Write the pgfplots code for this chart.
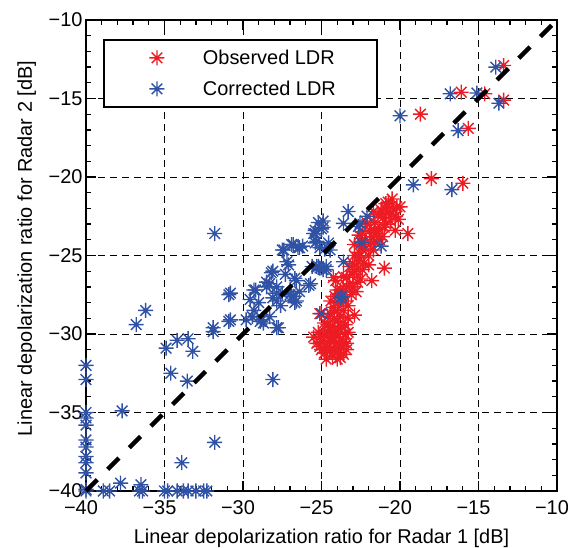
\documentclass[border=0pt]{standalone}
\usepackage{pgfplots}
\pgfplotsset{compat=1.18}
\usepackage{fontspec}
\setmainfont{Liberation Sans}
\definecolor{obsred}{RGB}{237,28,36}
\definecolor{corblue}{RGB}{48,82,165}
\pgfdeclareplotmark{mstar}{%
  \pgfpathmoveto{\pgfqpoint{0pt}{\pgfplotmarksize}}\pgfpathlineto{\pgfqpoint{0pt}{-\pgfplotmarksize}}%
  \pgfpathmoveto{\pgfqpoint{\pgfplotmarksize}{0pt}}\pgfpathlineto{\pgfqpoint{-\pgfplotmarksize}{0pt}}%
  \pgfpathmoveto{\pgfqpoint{0.707\pgfplotmarksize}{0.707\pgfplotmarksize}}\pgfpathlineto{\pgfqpoint{-0.707\pgfplotmarksize}{-0.707\pgfplotmarksize}}%
  \pgfpathmoveto{\pgfqpoint{0.707\pgfplotmarksize}{-0.707\pgfplotmarksize}}\pgfpathlineto{\pgfqpoint{-0.707\pgfplotmarksize}{0.707\pgfplotmarksize}}%
  \pgfusepathqstroke}
\begin{document}
\begin{tikzpicture}
\begin{axis}[
  set layers,
  scale only axis, width=471bp, height=471bp,
  xmin=-40, xmax=-10, ymin=-40, ymax=-10,
  xtick={-40,-35,-30,-25,-20,-15,-10},
  ytick={-40,-35,-30,-25,-20,-15,-10},
  xticklabels={−40,−35,−30,−25,−20,−15,−10},
  yticklabels={−40,−35,−30,−25,−20,−15,−10},
  minor x tick num=4, minor y tick num=4,
  tick align=inside,
  major tick length=10bp, minor tick length=5bp,
  every tick/.style={black, line width=1.3bp},
  axis line style={line width=2.8bp},
  grid=major,
  major grid style={black, line width=0.9bp, dash pattern=on 7bp off 5bp},
  font=\fontsize{20}{24}\selectfont,
  xticklabel style={yshift=-6bp, xshift=-5bp},
  xlabel={Linear depolarization ratio for Radar 1 [dB]},
  ylabel={Linear depolarization ratio for Radar 2 [dB]},
  xlabel style={at={(axis description cs:0.5,-0.1125)}, anchor=base},
  ylabel style={at={(axis description cs:-0.115,0.515)}, anchor=base},
  legend style={at={(0.036,0.96)}, anchor=north west, draw=black, line width=2bp,
    inner xsep=10bp, inner ysep=9bp, row sep=13bp, column sep=38bp,
    nodes={inner sep=0pt, text height=16bp, text depth=2bp},
    font=\fontsize{20}{24}\selectfont},
  legend image code/.code={\path[draw=none,fill=none] (-43bp,-8bp) rectangle (8bp,8bp); \draw[#1] plot coordinates {(0bp,0bp)};},
]
\addplot[only marks, mark=mstar, mark size=7.5bp, line width=1.4bp, color=obsred] coordinates {
(-18.7,-16.0) (-16.1,-14.6) (-14.6,-14.7) (-13.4,-12.9) (-13.4,-15.1) (-15.65,-16.9) (-18.0,-20.1) (-16.0,-20.4)
(-25.1,-30.2) (-24.9,-30.5) (-24.8,-31.2) (-24.6,-29.8) (-24.5,-30.4) (-24.4,-30.9) (-24.3,-31.4) (-24.2,-30.0)
(-24.1,-30.6) (-24.0,-31.2) (-23.9,-29.7) (-23.8,-30.3) (-23.7,-30.8) (-23.6,-31.3) (-23.5,-30.0) (-23.4,-30.6)
(-24.6,-30.9) (-25.3,-30.6) (-25.5,-30.2) (-25.1,-30.8) (-23.9,-31.0) (-24.3,-29.5) (-23.5,-29.4) (-24.0,-29.2)
(-23.3,-29.9) (-24.7,-31.6) (-24.0,-31.6) (-23.6,-30.5) (-24.8,-30.0) (-24.4,-30.2) (-24.1,-29.9) (-23.8,-31.5)
(-24.5,-31.1) (-25.0,-31.0) (-23.4,-31.0) (-24.2,-30.4) (-23.7,-29.6) (-24.6,-29.4) (-25.2,-29.9)
(-24.45,-28.7) (-23.8,-28.9) (-22.9,-28.8) (-24.25,-28.3) (-24.0,-27.2) (-23.8,-27.2) (-24.15,-27.6) (-23.9,-28.0)
(-23.5,-27.9) (-23.6,-27.3) (-23.2,-26.8) (-23.4,-27.0) (-23.6,-26.35) (-24.25,-26.4) (-24.1,-26.6) (-23.2,-25.7)
(-22.75,-25.9) (-22.65,-25.4) (-23.0,-26.2) (-22.9,-25.0) (-22.6,-24.8) (-22.2,-24.0) (-22.4,-24.4) (-21.8,-26.6)
(-21.0,-25.8) (-21.7,-24.65) (-22.8,-27.3) (-22.5,-26.5) (-22.3,-25.5) (-22.0,-25.0) (-21.9,-23.4) (-21.5,-23.6)
(-22.1,-23.0) (-21.8,-23.8) (-21.3,-24.0) (-22.4,-23.5) (-21.6,-22.9) (-21.0,-23.2) (-20.85,-22.3) (-20.3,-22.5)
(-20.75,-21.6) (-20.2,-21.9) (-20.0,-21.9) (-20.3,-23.4) (-19.5,-23.6) (-21.1,-22.6) (-20.6,-22.8) (-20.9,-22.0)
(-20.4,-22.1) (-21.4,-22.4) (-25.1,-28.7) (-22.9,-24.3) (-22.6,-23.7)
(-24.6,-28.9) (-24.2,-29.0) (-23.6,-28.5) (-24.0,-28.5) (-23.3,-28.2) (-23.1,-27.5) (-23.7,-27.7) (-24.4,-27.9)
(-23.0,-27.0) (-22.7,-26.7) (-23.4,-26.4) (-22.9,-26.0) (-22.4,-25.9) (-22.0,-25.6) (-22.6,-25.1) (-23.0,-25.5)
(-22.2,-24.6) (-21.9,-24.3) (-21.6,-24.1) (-22.5,-24.1) (-21.4,-23.3) (-21.1,-23.8) (-21.6,-23.4) (-20.9,-23.0)
(-20.6,-22.4) (-20.9,-21.7) (-20.5,-21.4) (-21.2,-22.1) (-20.1,-22.7) (-22.2,-22.8) (-21.7,-22.2) (-24.5,-29.6)
(-23.3,-29.0) (-24.8,-29.3)
};
\addlegendentry{\makebox[164bp][l]{Observed LDR}}
\addplot[only marks, mark=mstar, mark size=7.5bp, line width=1.4bp, color=corblue] coordinates {
(-20.0,-16.1) (-16.8,-14.7) (-15.1,-14.65) (-13.9,-13.0) (-13.7,-15.3) (-16.3,-17.05) (-19.15,-20.5) (-16.7,-20.8)
(-31.8,-23.6) (-30.9,-27.5) (-36.2,-28.5) (-36.8,-29.4) (-30.9,-29.2) (-31.9,-29.6) (-27.5,-24.65) (-26.8,-24.3)
(-26.4,-24.5) (-25.5,-23.6) (-24.9,-23.2) (-27.2,-25.4) (-28.2,-26.1) (-25.7,-26.8) (-26.8,-27.6) (-27.85,-27.4)
(-28.5,-27.0) (-29.3,-27.2) (-29.55,-27.8) (-29.3,-28.5) (-28.3,-28.9) (-29.8,-29.1) (-28.7,-29.3) (-25.2,-25.7)
(-24.7,-25.9) (-23.3,-22.2) (-23.6,-22.95) (-22.55,-22.95) (-22.1,-22.5) (-25.0,-23.3) (-25.4,-23.6) (-25.3,-24.1)
(-24.55,-24.2) (-24.45,-24.65) (-25.1,-24.5) (-26.9,-24.3) (-27.4,-24.65) (-23.6,-25.4) (-22.45,-24.2) (-21.2,-24.4)
(-25.1,-25.8) (-24.7,-25.7) (-25.6,-25.7) (-27.1,-25.6) (-28.1,-26.0) (-26.7,-26.45) (-25.8,-26.9) (-28.3,-26.8)
(-27.5,-27.4) (-26.9,-27.6) (-26.6,-27.9) (-27.85,-27.9) (-23.7,-27.6) (-29.4,-28.9) (-28.9,-29.2) (-27.85,-29.6)
(-25.0,-28.7) (-28.1,-32.9) (-26.7,-28.0) (-22.65,-23.15) (-23.8,-27.7) (-24.9,-25.9)
(-25.4,-23.4) (-25.4,-24.2) (-24.8,-24.6) (-26.5,-24.5) (-28.5,-26.7) (-26.6,-26.6) (-27.85,-27.0) (-29.2,-27.2)
(-27.0,-27.5) (-28.1,-27.7) (-28.8,-29.1) (-27.75,-29.6) (-30.8,-27.4) (-30.8,-29.1) (-25.3,-25.7)
(-26.2,-24.4) (-24.9,-22.8) (-25.2,-22.9) (-27.3,-26.2) (-26.4,-27.3) (-27.6,-28.2) (-29.0,-28.0)
(-34.9,-30.9) (-34.2,-30.4) (-33.5,-30.3) (-33.2,-31.1) (-31.9,-29.85) (-34.6,-32.5) (-33.55,-33.0) (-37.7,-34.9)
(-31.8,-36.9) (-33.9,-38.2) (-37.8,-39.5) (-36.5,-39.6)
(-40,-40) (-38.9,-40) (-38.5,-40) (-36.6,-40) (-36.4,-40) (-35,-40) (-34.8,-40) (-34.2,-40) (-33.8,-40)
(-33.5,-40) (-33,-40) (-32.5,-40) (-32.3,-40)
(-40,-32.0) (-40,-32.9) (-40,-35.0) (-40,-35.35) (-40,-35.8) (-40,-36.75) (-40,-37.2) (-40,-37.8)
(-40,-38.2) (-40,-38.85) (-40,-39.9)
};
\addlegendentry{\makebox[164bp][l]{Corrected LDR}}
\addplot[on layer=axis foreground, black, line width=4.5bp, dash pattern=on 16bp off 14.6bp, forget plot] coordinates {(-40,-40) (-10,-10)};
\end{axis}
\pgfresetboundingbox
\path (-86bp,-57bp) rectangle (484bp,491bp);
\end{tikzpicture}
\end{document}
